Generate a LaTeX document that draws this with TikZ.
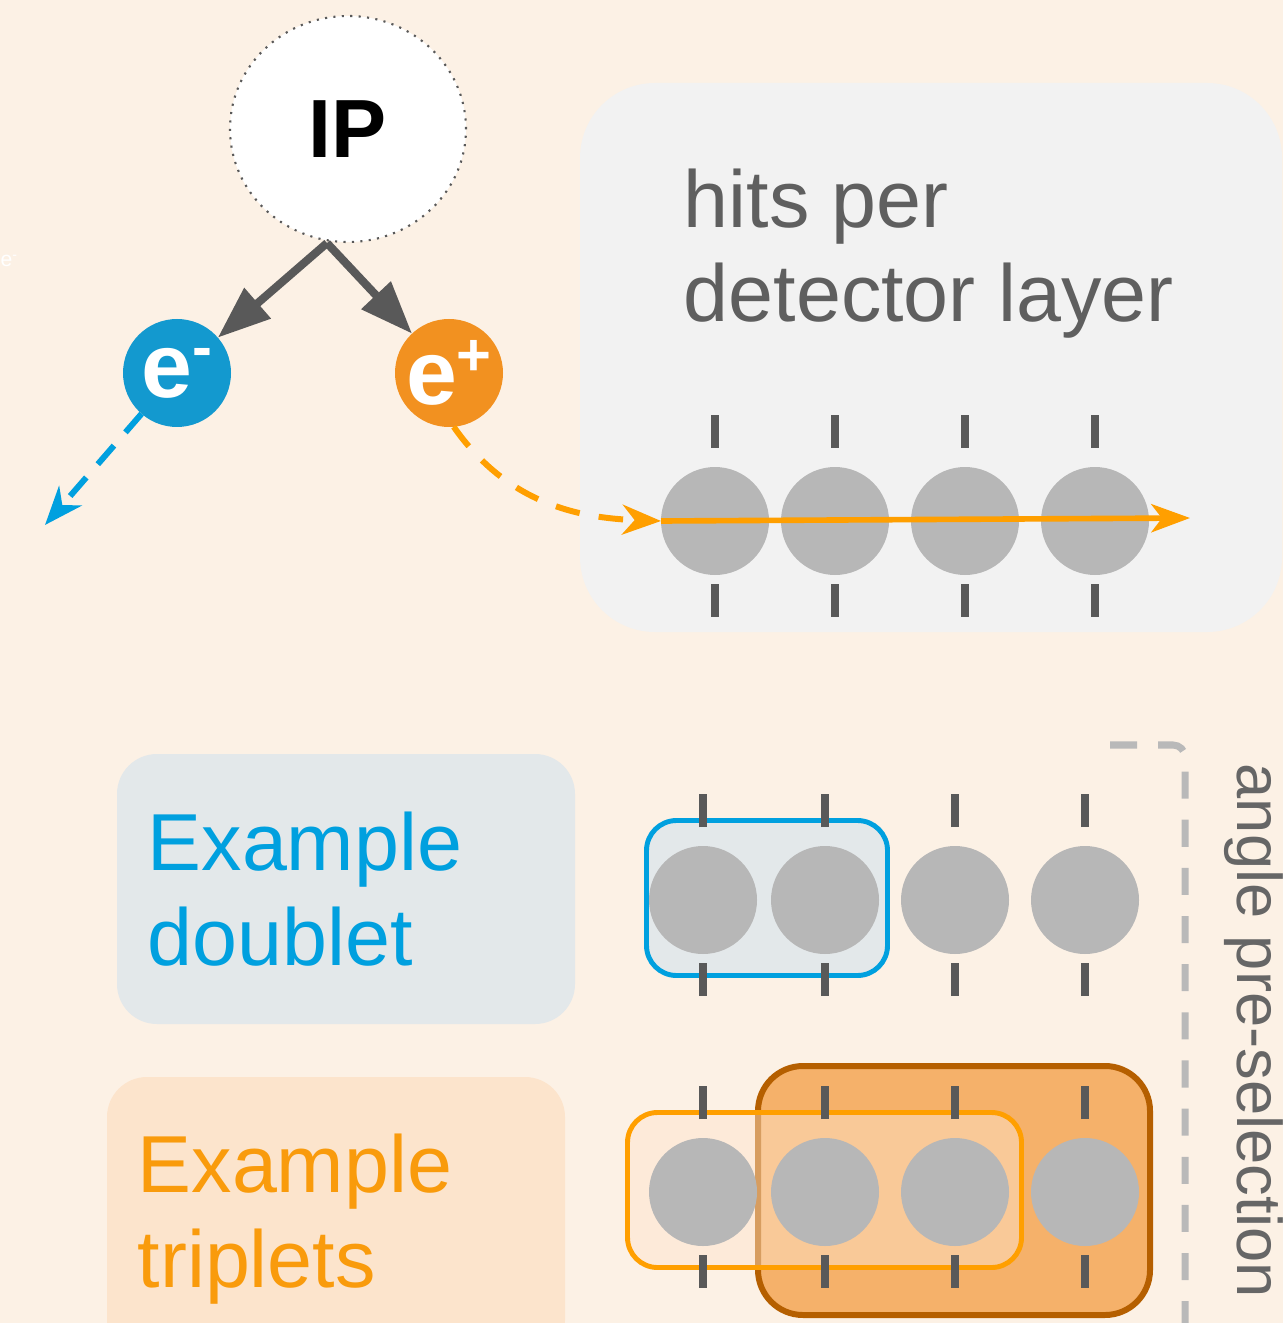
\documentclass[tikz,border=0pt]{standalone}
\usepackage{fontspec}
\setmainfont{Liberation Sans}
\usepackage{tikz}
\usetikzlibrary{shapes.geometric, arrows.meta, positioning}
\usepackage{xcolor}
\definecolor{cream}{HTML}{FCF1E5}
\definecolor{boxgray}{HTML}{F2F2F2}
\definecolor{hitgray}{HTML}{B7B7B7}
\definecolor{darkline}{HTML}{595959}
\definecolor{eblue}{HTML}{1399CF}
\definecolor{eorange}{HTML}{F29120}
\definecolor{lineblue}{HTML}{00A0DF}
\definecolor{lineorange}{HTML}{FF9F00}
\definecolor{doubletfill}{HTML}{E3E8EA}
\definecolor{tripletfill}{HTML}{FCE4CC}
\definecolor{darkorange}{HTML}{B55F00}
\definecolor{midorange}{HTML}{F5B16A}
\definecolor{paleorange}{HTML}{FFE4CC}
\definecolor{textgray}{HTML}{5F5F5F}
\definecolor{anglegray}{HTML}{666666}
\definecolor{bracketgray}{HTML}{B9B9B9}
\definecolor{textorange}{HTML}{F99B0C}
\tikzstyle{hit} = [circle, fill=hitgray, minimum size=1.08cm, inner sep=0pt, outer sep=0pt]
\tikzstyle{hittick} = [draw=darkline, line width=2.1pt]
\tikzstyle{particle} = [circle, minimum size=1.08cm, inner sep=0pt, outer sep=0pt,
text=white, font=\fontsize{26pt}{26pt}\selectfont\bfseries]
\tikzstyle{bigtext} = [font=\fontsize{23pt}{26.8pt}\selectfont, align=left,
inner sep=0pt, anchor=base west]
\tikzstyle{ipline} = [draw=darkline, line width=2.3pt, -{Triangle[length=15pt, width=11pt]}]
\tikzstyle{bluedash} = [draw=lineblue, line width=1.7pt, dash pattern=on 7pt off 5pt,
-{Stealth[length=11pt, width=8.5pt, inset=3.5pt]}]
\tikzstyle{orangedash} = [draw=lineorange, line width=1.7pt, dash pattern=on 7pt off 5.5pt,
-{Stealth[length=11pt, width=8.5pt, inset=3.5pt]}]
\tikzstyle{trackline} = [draw=lineorange, line width=1.6pt, -{Stealth[length=11pt, width=8pt, inset=3pt]}]
\newcommand{\charge}[1]{\makebox[0pt]{e\raisebox{8.4pt}{\fontsize{17pt}{17pt}\selectfont\bfseries #1}}}

\begin{document}
\begin{tikzpicture}
	\useasboundingbox (0,0) rectangle (12.83,-13.23);
	\clip (0,0) rectangle (12.83,-13.23);
	\fill[cream] (0,0) rectangle (12.83,-13.23);
	
	\fill[boxgray, rounded corners=0.75cm] (5.80,-0.83) rectangle (12.82,-6.32);
	\fill[doubletfill, rounded corners=0.4cm] (1.17,-7.54) rectangle (5.75,-10.24);
	\fill[tripletfill, rounded corners=0.4cm] (1.07,-10.77) rectangle (5.65,-13.60);
	
	\node (ghost) [anchor=west, inner sep=0pt, text=white, font=\fontsize{6pt}{6pt}\selectfont] at (0,-2.61) {e\raisebox{2pt}{\fontsize{4pt}{4pt}\selectfont -}};
	
	\node (ip) [ellipse, draw=darkline, line width=0.6pt, dash pattern=on 0.6pt off 1.8pt, fill=white, minimum width=2.36cm, minimum height=2.26cm, font=\fontsize{23.5pt}{23.5pt}\selectfont\bfseries] at (3.48,-1.29) {IP};
	\node (em) [particle, fill=eblue] at (1.77,-3.73) {\charge{-}};
	\node (ep) [particle, fill=eorange] at (4.49,-3.73) {\charge{+}};
	
	\draw [ipline] ([xshift=-0.21cm]ip.south) -- (em);
	\draw [ipline] ([xshift=-0.21cm]ip.south) -- (ep);
	
	\node (hitstext) [bigtext, text=textgray] at (6.83,-3.22) {hits per\\detector layer};
	\node (doublettext) [bigtext, text=lineblue] at (1.47,-9.65) {Example\\doublet};
	\node (triplettext) [bigtext, text=textorange] at (1.37,-12.87) {Example\\triplets};
	\node (angletext) [font=\fontsize{18pt}{18pt}\selectfont, text=anglegray, rotate=-90, anchor=base west, inner sep=0pt] at (12.37,-7.63) {angle pre-selection};
	
	\draw [bracketgray, line width=2pt, dash pattern=on 7.7pt off 6pt, rounded corners=0.12cm] (11.10,-7.45) -- (11.85,-7.45) -- (11.85,-13.40);
	
	\draw [lineblue, line width=1.4pt, fill=doubletfill, rounded corners=0.3cm] (6.465,-8.205) rectangle (8.875,-9.755);
	\draw [darkorange, line width=1.7pt, fill=midorange, rounded corners=0.45cm] (7.58,-10.66) rectangle (11.50,-13.15);
	\draw [lineorange, line width=1.4pt, fill=paleorange, fill opacity=0.47, rounded corners=0.3cm] (6.275,-11.125) rectangle (10.215,-12.675);
	
	\node (h1) [hit] at (7.15,-5.21) {};
	\node (h2) [hit, right=0.12cm of h1] {};
	\node (h3) [hit, right=0.22cm of h2] {};
	\node (h4) [hit, right=0.22cm of h3] {};
	
	\node (d1) [hit] at (7.03,-9.00) {};
	\node (d2) [hit, right=0.14cm of d1] {};
	\node (d3) [hit, right=0.22cm of d2] {};
	\node (d4) [hit, right=0.22cm of d3] {};
	
	\node (t1) [hit] at (7.03,-11.92) {};
	\node (t2) [hit, right=0.14cm of t1] {};
	\node (t3) [hit, right=0.22cm of t2] {};
	\node (t4) [hit, right=0.22cm of t3] {};
	
	\foreach \n in {h1,h2,h3,h4,d1,d2,d3,d4,t1,t2,t3,t4} {
		\draw [hittick] ([yshift=0.19cm]\n.north) -- ++(0,0.33);
		\draw [hittick] ([yshift=-0.09cm]\n.south) -- ++(0,-0.33);
	}
	
	\coordinate (eout) at (0.45,-5.25);
	\coordinate (hend) at (11.90,-5.18);
	\draw [bluedash] (em) -- (eout);
	\draw [orangedash] (ep.-85) to[out=-55, in=178] (h1.west);
	\draw [trackline] (h1.west) -- (hend);
\end{tikzpicture}
\end{document}
